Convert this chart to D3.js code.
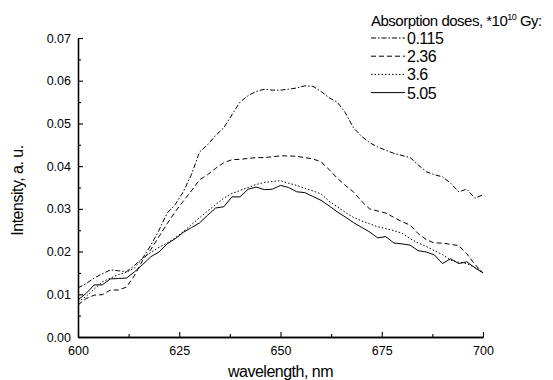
<!DOCTYPE html>
<html>
<head>
<meta charset="utf-8">
<script src="https://cdn.jsdelivr.net/npm/d3@7"></script>
<style>
  body { margin: 0; background: #fff; }
  svg { display: block; font-family: Arial, "Liberation Sans", sans-serif; }
  .tick-label { font-size: 12px; fill: #000; }
  .label { font-size: 16px; fill: #000; letter-spacing: -0.5px; }
  .legend-title { font-size: 15px; fill: #000; letter-spacing: -0.5px; }
  .curve { fill: none; stroke: #000; stroke-width: 1; }
</style>
</head>
<body>
<div id="chart"></div>
<script>
// wavelength, nm
var wavelength = [600, 602, 604, 606, 608, 610, 612, 614, 616, 618, 620, 622, 624, 626, 628, 630, 632, 634, 636, 638,
  640, 642, 644, 646, 648, 650, 652, 654, 656, 658, 660, 662, 664, 666, 668, 670, 672, 674, 676, 678,
  680, 682, 684, 686, 688, 690, 692, 694, 696, 698, 700];

var dose0115 = [0.0115, 0.0125, 0.0138, 0.0148, 0.0157, 0.0155, 0.0153, 0.0168, 0.0185, 0.0215, 0.025, 0.029, 0.031, 0.034, 0.038, 0.0433, 0.045, 0.0472, 0.049, 0.052,
  0.055, 0.0565, 0.0575, 0.058, 0.0578, 0.0578, 0.058, 0.0583, 0.0588, 0.0587, 0.0575, 0.056, 0.055, 0.0525, 0.049, 0.047, 0.0455, 0.0445, 0.0437, 0.043,
  0.0425, 0.042, 0.0403, 0.0387, 0.038, 0.0375, 0.036, 0.034, 0.0346, 0.0325, 0.0333];

var dose236 = [0.0075, 0.009, 0.0098, 0.0099, 0.011, 0.011, 0.0117, 0.0145, 0.018, 0.0205, 0.0235, 0.0265, 0.0293, 0.0318, 0.0342, 0.0368, 0.038, 0.0395, 0.0408, 0.0415,
  0.0416, 0.0418, 0.042, 0.042, 0.0422, 0.0424, 0.0424, 0.0423, 0.042, 0.0417, 0.041, 0.0392, 0.0372, 0.0355, 0.034, 0.0318, 0.030, 0.0295, 0.029, 0.028,
  0.027, 0.0262, 0.0242, 0.0228, 0.022, 0.022, 0.0217, 0.0214, 0.0195, 0.017, 0.015];

var dose36 = [0.0082, 0.0095, 0.0112, 0.0129, 0.0138, 0.0146, 0.0152, 0.0162, 0.0185, 0.0198, 0.021, 0.022, 0.0232, 0.0247, 0.0263, 0.0279, 0.0295, 0.031, 0.0325, 0.0336,
  0.0343, 0.035, 0.0357, 0.0362, 0.0364, 0.0366, 0.036, 0.0355, 0.0348, 0.0342, 0.0335, 0.0318, 0.0305, 0.0292, 0.028, 0.0272, 0.0265, 0.0258, 0.0254, 0.0249,
  0.0243, 0.023, 0.022, 0.0212, 0.0202, 0.0193, 0.018, 0.0175, 0.0172, 0.0163, 0.0152];

var dose505 = [0.0087, 0.0102, 0.0122, 0.0122, 0.0136, 0.0137, 0.0138, 0.0153, 0.017, 0.0188, 0.0199, 0.0218, 0.023, 0.0245, 0.0256, 0.0267, 0.0285, 0.0302, 0.0305, 0.0328,
  0.0328, 0.0346, 0.0351, 0.0345, 0.0346, 0.0355, 0.035, 0.034, 0.0338, 0.0329, 0.032, 0.0307, 0.0293, 0.0281, 0.0268, 0.0257, 0.0246, 0.0232, 0.0235, 0.022,
  0.0218, 0.0215, 0.0202, 0.0199, 0.0192, 0.0172, 0.0183, 0.0172, 0.0176, 0.0162, 0.015];

var seriesNames = ["0.115", "2.36", "3.6", "5.05"];
var seriesValues = [dose0115, dose236, dose36, dose505];
var dashes = ["5,2,1.5,2", "5,3", "1.5,2", null];

var xTicks = [600, 625, 650, 675, 700];
var yTicks = [0.00, 0.01, 0.02, 0.03, 0.04, 0.05, 0.06, 0.07];

var margin = { top: 38, right: 70, bottom: 43, left: 78 };
var width = 553 - margin.left - margin.right;
var height = 380 - margin.top - margin.bottom;

var svg = d3.select("#chart").append("svg")
  .attr("width", 553)
  .attr("height", 380);

var g = svg.append("g")
  .attr("transform", "translate(" + margin.left + "," + margin.top + ")");

var x = d3.scaleLinear().domain([600, 700]).range([0, width]);
var y = d3.scaleLinear().domain([0, 0.07]).range([height, 0]);

// Axes (ticks point inward)
g.append("g")
  .attr("transform", "translate(0," + height + ")")
  .call(d3.axisBottom(x).tickValues(xTicks).tickSize(-5).tickSizeOuter(0).tickPadding(9).tickFormat(d3.format("d")));

g.append("g")
  .attr("transform", "translate(0," + height + ")")
  .call(d3.axisBottom(x).tickValues([612.5, 637.5, 662.5, 687.5]).tickSize(-3).tickSizeOuter(0).tickFormat(""));

g.append("g")
  .call(d3.axisLeft(y).tickValues(yTicks).tickSize(-5).tickSizeOuter(0).tickPadding(7).tickFormat(d3.format(".2f")));

g.append("g")
  .call(d3.axisLeft(y).tickValues([0.005, 0.015, 0.025, 0.035, 0.045, 0.055, 0.065]).tickSize(-3).tickSizeOuter(0).tickFormat(""));

g.selectAll(".domain").attr("stroke", "#000").attr("stroke-width", 1.3);
g.selectAll(".tick line").attr("stroke", "#000").attr("stroke-width", 1.1);
g.selectAll(".tick text")
  .attr("class", "tick-label")
  .style("font-size", "12.5px")
  .style("font-family", "Arial, 'Liberation Sans', sans-serif");

// Curves
var line = d3.line()
  .x(function(d, i){ return x(wavelength[i]); })
  .y(function(d){ return y(d); });

seriesValues.forEach(function(vals, k){
  g.append("path")
    .datum(vals)
    .attr("class", "curve")
    .attr("stroke-dasharray", dashes[k])
    .attr("d", line);
});

// Axis titles
svg.append("text")
  .attr("class", "label")
  .attr("text-anchor", "middle")
  .attr("transform", "translate(" + (margin.left + width / 2) + ",377)")
  .text("wavelength, nm");

svg.append("text")
  .attr("class", "label")
  .attr("text-anchor", "middle")
  .attr("transform", "translate(23," + (margin.top + height / 2 + 3) + ")rotate(-90)")
  .text("Intensity, a. u.");

// Legend
var legend = svg.append("g").attr("transform", "translate(371,0)");

var title = legend.append("text")
  .attr("class", "legend-title")
  .attr("x", 0)
  .attr("y", 26);
title.append("tspan").text("Absorption doses, *10");
title.append("tspan").attr("dy", -6).style("font-size", "9px").text("10");
title.append("tspan").attr("dy", 6).text(" Gy:");

seriesNames.forEach(function(name, k){
  var by = 44 + k * 18.2;
  legend.append("line")
    .attr("x1", 0).attr("x2", 34)
    .attr("y1", by - 6).attr("y2", by - 6)
    .attr("stroke", "#000")
    .attr("stroke-width", 1)
    .attr("stroke-dasharray", dashes[k]);
  legend.append("text")
    .attr("class", "label")
    .attr("x", 36)
    .attr("y", by)
    .text(name);
});
</script>
</body>
</html>
